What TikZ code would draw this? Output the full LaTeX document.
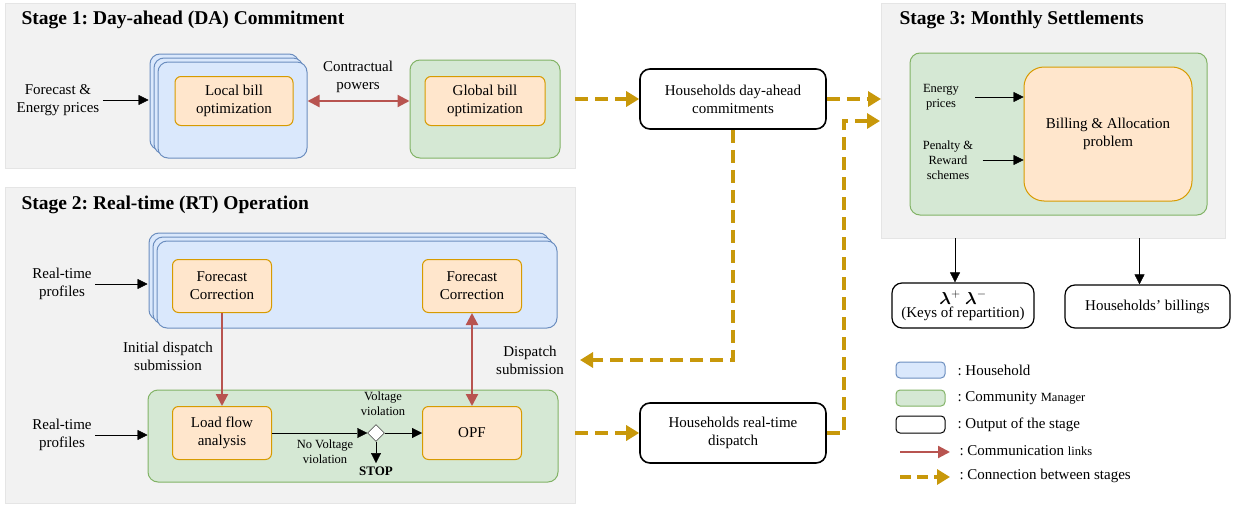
\documentclass[tikz,border=0pt]{standalone}
\usepackage{amsmath}
\usepackage{fontspec}
\setmainfont{Liberation Serif}
\usetikzlibrary{arrows.meta,shapes.geometric,shadows}
\definecolor{hhfill}{HTML}{DAE8FC}
\definecolor{hhdraw}{HTML}{6C8EBF}
\definecolor{cmfill}{HTML}{D5E8D4}
\definecolor{cmdraw}{HTML}{82B366}
\definecolor{ofill}{HTML}{FFE6CC}
\definecolor{odraw}{HTML}{D79B00}
\definecolor{commred}{HTML}{B85450}
\definecolor{linkgold}{RGB}{200,152,10}
\frenchspacing

\begin{document}
\begin{tikzpicture}[
  x = 1pt, y = -1pt,
  every node/.style = {font = \fontsize{15}{18}\selectfont, align = center},
  small/.style = {font = \fontsize{12.5}{15}\selectfont},
  panel/.style = {draw = black!10, fill = black!5, anchor = north west, inner sep = 0},
  stagetitle/.style = {anchor = west, font = \bfseries\fontsize{19.5}{22}\selectfont},
  hhbox/.style = {draw = hhdraw, fill = hhfill, line width = 1pt, rounded corners = 10pt, inner sep = 0},
  stacked/.style = {
    copy shadow = {shadow xshift = -8pt, shadow yshift = 8pt, draw = hhdraw, fill = hhfill, line width = 1pt},
    copy shadow = {shadow xshift = -4pt, shadow yshift = 4pt, draw = hhdraw, fill = hhfill, line width = 1pt}},
  cmbox/.style = {draw = cmdraw, fill = cmfill, line width = 1pt, rounded corners = 10pt, inner sep = 0},
  obox/.style = {draw = odraw, fill = ofill, line width = 1pt, rounded corners = 6pt, inner sep = 0},
  outbox/.style = {draw, fill = white, line width = 1.6pt, rounded corners = 10pt, inner sep = 0},
  arr/.style = {> = {Triangle[length = 10pt, width = 10pt]}, ->},
  comm/.style = {draw = commred, line width = 2.2pt, > = {Triangle[length = 12pt, width = 12pt]}, ->},
  link/.style = {draw = linkgold, line width = 4pt, dash pattern = on 13pt off 7pt,
    > = {Triangle[length = 13pt, width = 15pt]}, ->},
  ]
  \useasboundingbox (0,0) rectangle (1237,506);

  \node[panel, minimum width = 570pt, minimum height = 165pt] (st1) at (5,3) {};
  \node[stagetitle] (st1title) at (18,20) {Stage 1: Day-ahead (DA) Commitment};
  \node (in1) at (58,100) {Forecast \&\\Energy prices};
  \node[hhbox, stacked, minimum width = 149pt, minimum height = 96pt] (hh1) at (232.5,110) {};
  \node[obox, minimum width = 118pt, minimum height = 49pt] (lbo) at (234,101) {Local bill\\optimization};
  \node[cmbox, minimum width = 150pt, minimum height = 98pt] (cm1) at (485,109) {};
  \node[obox, minimum width = 120pt, minimum height = 49pt] (gbo) at (485,101) {Global bill\\optimization};
  \node (cp) at (358,77) {Contractual\\powers};
  \draw[arr] (in1.east) -- ([xshift = -9pt]in1.east -| hh1.west);
  \draw[comm, <->] (lbo.east -| hh1.east) -- (gbo.west -| cm1.west);

  \node[panel, minimum width = 570pt, minimum height = 316pt] (st2) at (5,187) {};
  \node[stagetitle] (st2title) at (18,205) {Stage 2: Real-time (RT) Operation};
  \node (in2) at (62,284) {Real-time\\profiles};
  \node[hhbox, stacked, minimum width = 400pt, minimum height = 87pt] (hh2) at (357,284.5) {};
  \node[obox, minimum width = 99pt, minimum height = 53pt] (fc1) at (222,286) {Forecast\\Correction};
  \node[obox, minimum width = 99pt, minimum height = 53pt] (fc2) at (472,286) {Forecast\\Correction};
  \node (in3) at (62,435) {Real-time\\profiles};
  \node[cmbox, minimum width = 410pt, minimum height = 92pt] (cm2) at (353,436) {};
  \node[obox, minimum width = 99pt, minimum height = 53pt] (lfa) at (222,433) {Load flow\\analysis};
  \node[obox, minimum width = 99pt, minimum height = 53pt] (opf) at (472,433) {OPF};
  \node[diamond, draw, fill = white, minimum size = 17pt, inner sep = 0] (dia) at (376,433) {};
  \node[font = \bfseries\fontsize{13}{15}\selectfont] (stop) at (376,471) {STOP};
  \node[small] (vv) at (383,404) {Voltage\\violation};
  \node[small] (nvv) at (325,452) {No Voltage\\violation};
  \node (ids) at (168,356) {Initial dispatch\\submission};
  \node (ds) at (530,360) {Dispatch\\submission};
  \draw[arr] (in2.east) -- ([xshift = -9pt]in2.east -| hh2.west);
  \draw[arr] (in3.east) -- (in3.east -| cm2.west);
  \draw[arr] (lfa.east) -- (dia.west);
  \draw[arr] (dia.east) -- (opf.west);
  \draw[arr] (dia.south) -- (stop.north);
  \draw[comm] (fc1.south) -- (lfa.north);
  \draw[comm, <->] (fc2.south) -- (opf.north);

  \node[outbox, minimum width = 186pt, minimum height = 60pt] (da) at (733,99) {Households day-ahead\\commitments};
  \node[outbox, minimum width = 186pt, minimum height = 60pt] (rt) at (733,433) {Households real-time\\dispatch};
  \coordinate (back) at (580,360);
  \coordinate (rtin) at (880,121);
  \draw[link] (da.west -| st1.east) -- (da.west);
  \draw[link] (rt.west -| st2.east) -- (rt.west);
  \draw[link] (da.south) |- (back);

  \node[panel, minimum width = 344pt, minimum height = 235pt] (st3) at (881,3) {};
  \node[stagetitle] (st3title) at (896,20) {Stage 3: Monthly Settlements};
  \node[cmbox, minimum width = 297pt, minimum height = 162pt] (cm3) at (1058.5,134) {};
  \node[obox, rounded corners = 20pt, minimum width = 168pt, minimum height = 134pt] (bap) at (1108,134) {Billing \& Allocation\\problem};
  \node[small] (ep) at (941,97) {Energy\\prices};
  \node[small] (prs) at (948,160) {Penalty \&\\Reward\\schemes};
  \draw[arr] ([xshift = 13pt]ep.east) -- (ep.east -| bap.west);
  \draw[arr] ([xshift = 6pt]prs.east) -- (prs.east -| bap.west);
  \draw[link] (da.east) -- (da.east -| st3.west);
  \draw[link] (rt.east) -- ++(17,0) |- (rtin);

  \node[outbox, line width = 1.2pt, minimum width = 142pt, minimum height = 45pt] (keys) at (963,305.5)
    {\fontsize{18}{18}\selectfont$\boldsymbol{\lambda}^{+}\ \boldsymbol{\lambda}^{-}$\\[-5pt](Keys of repartition)};
  \node[outbox, line width = 1.2pt, minimum width = 165pt, minimum height = 43pt] (bills) at (1147.5,306.5) {Households’ billings};
  \draw[arr] ([xshift = -8pt]keys.north |- st3.south) -- ([xshift = -8pt]keys.north);
  \draw[arr] ([xshift = -8pt]bills.north |- st3.south) -- ([xshift = -8pt]bills.north);

  \node[hhbox, rounded corners = 4pt, minimum width = 49pt, minimum height = 16pt] (lg1) at (920.5,370) {};
  \node[cmbox, rounded corners = 4pt, minimum width = 49pt, minimum height = 16pt] (lg2) at (920.5,398) {};
  \node[outbox, line width = 1pt, rounded corners = 4pt, minimum width = 49pt, minimum height = 17pt] (lg3) at (920.5,424.5) {};
  \coordinate (lg4a) at (900,452);
  \coordinate (lg4b) at (950,452);
  \coordinate (lg5a) at (900,477);
  \coordinate (lg5b) at (950,477);
  \draw[comm] (lg4a) -- (lg4b);
  \draw[link, dash pattern = on 11pt off 6pt] (lg5a) -- (lg5b);
  \node[anchor = west] (lt1) at (954,370) {: Household};
  \node[anchor = west] (lt2) at (954,398) {: Community {\fontsize{12.5}{15}\selectfont Manager}};
  \node[anchor = west] (lt3) at (954,424.5) {: Output of the stage};
  \node[anchor = west] (lt4) at (956,451) {: Communication {\fontsize{12.5}{15}\selectfont links}};
  \node[anchor = west] (lt5) at (956,476) {: Connection between stages};
\end{tikzpicture}
\end{document}
